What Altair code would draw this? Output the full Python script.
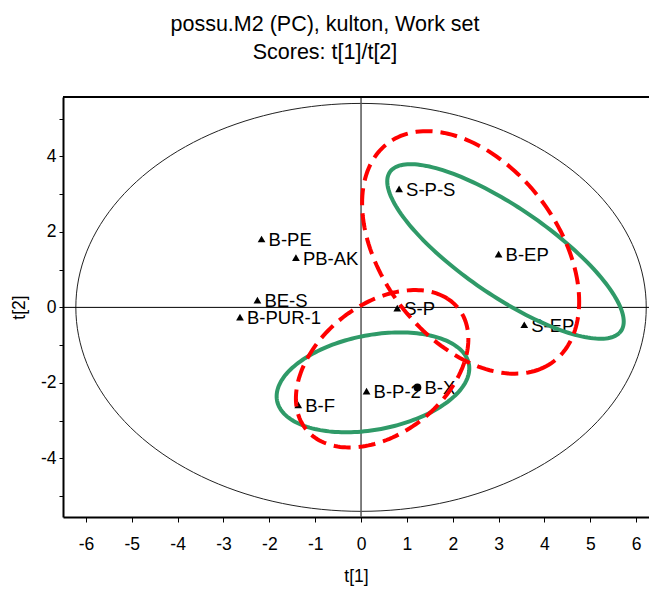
import altair as alt
import numpy as np
import pandas as pd

# ---- observations (scores) ----
names = ["S-P-S", "B-EP", "S-EP", "S-P", "B-P-2", "B-X", "B-F", "B-PE", "PB-AK", "BE-S", "B-PUR-1"]
t1 = [0.83, 3.00, 3.56, 0.79, 0.12, 1.23, -1.37, -2.17, -1.42, -2.26, -2.64]
t2 = [3.14, 1.41, -0.46, -0.02, -2.22, -2.12, -2.58, 1.81, 1.32, 0.19, -0.26]
markers = ["triangle-up", "triangle-up", "triangle-up", "triangle-up", "triangle-up", "circle",
           "triangle-up", "triangle-up", "triangle-up", "triangle-up", "triangle-up"]

# ---- ellipses: center x, center y, semi-axis a, semi-axis b, rotation (deg) ----
ell_ids = ["T2", "green1", "green2", "red1", "red2"]
ell_cx = [0.0, 3.15, 0.26, 2.39, 0.46]
ell_cy = [0.0, 1.48, -1.985, 1.455, -1.625]
ell_a = [6.22, 3.29, 2.15, 3.44, 2.34]
ell_b = [5.40, 1.08, 1.24, 2.02, 1.55]
ell_rot = [0.0, -41.1, 15.1, -63.7, 52.6]

x_ticks = [v / 2 for v in range(-12, 13)]
y_ticks = list(range(-5, 6))

pts = pd.DataFrame({"name": names, "t1": t1, "t2": t2, "marker": markers})

rows = []
ang = np.linspace(0, 2 * np.pi, 181)
for eid, cx, cy, a, b, r in zip(ell_ids, ell_cx, ell_cy, ell_a, ell_b, ell_rot):
    th = np.deg2rad(r)
    for i, t in enumerate(ang):
        ex = a * np.cos(t)
        ey = b * np.sin(t)
        rows.append({"id": eid, "i": i,
                     "x": cx + ex * np.cos(th) - ey * np.sin(th),
                     "y": cy + ex * np.sin(th) + ey * np.cos(th)})
ell = pd.DataFrame(rows)

FONT = "Liberation Sans"
W, H = 586, 420
xs = alt.Scale(domain=[-6.5, 6.28], nice=False, zero=False)
ys = alt.Scale(domain=[-5.55, 5.57], nice=False, zero=False)

xax = alt.Axis(values=x_ticks, title="t[1]", grid=False,
               labelExpr="datum.value % 1 === 0 ? '' + datum.value : ''",
               tickSize=5, labelPadding=13, titlePadding=15, domainWidth=2,
               domainColor="black", tickColor="black", labelFlush=False, labelOverlap=False)
yax = alt.Axis(values=y_ticks, title="t[2]", grid=False,
               labelExpr="datum.value % 2 === 0 ? '' + datum.value : ''",
               tickSize=4, labelPadding=3, titlePadding=12, domainWidth=2,
               domainColor="black", tickColor="black", labelFlush=False, labelOverlap=False)

base_ell = alt.Chart(ell)

t2_ell = base_ell.transform_filter("datum.id == 'T2'").mark_line(
    color="#222222", strokeWidth=1, clip=True).encode(
    x=alt.X("x:Q", scale=xs, axis=xax),
    y=alt.Y("y:Q", scale=ys, axis=yax),
    detail="id:N", order="i:Q")

zero_df = pd.DataFrame({"v": [0.0]})
hline = alt.Chart(zero_df).mark_rule(color="black", strokeWidth=1).encode(y=alt.Y("v:Q", scale=ys))
vline = alt.Chart(zero_df).mark_rule(color="#555555", strokeWidth=1.5).encode(x=alt.X("v:Q", scale=xs))

topline = alt.Chart(zero_df).mark_rule(color="black", strokeWidth=2).encode(
    x=alt.value(0), x2=alt.value(W), y=alt.value(0))

points = alt.Chart(pts).mark_point(filled=True, color="black", opacity=1, size=60).encode(
    x=alt.X("t1:Q", scale=xs), y=alt.Y("t2:Q", scale=ys),
    shape=alt.Shape("marker:N", scale=None))

labels = alt.Chart(pts).mark_text(align="left", baseline="middle", dx=7, dy=1,
                                  fontSize=18.5, font=FONT, color="black").encode(
    x=alt.X("t1:Q", scale=xs), y=alt.Y("t2:Q", scale=ys), text="name:N")

green = base_ell.transform_filter("indexof(datum.id, 'green') == 0").mark_line(
    color="#2f9a68", strokeWidth=4, clip=True).encode(
    x=alt.X("x:Q", scale=xs), y=alt.Y("y:Q", scale=ys), detail="id:N", order="i:Q")

red = base_ell.transform_filter("indexof(datum.id, 'red') == 0").mark_line(
    color="#ff0000", strokeWidth=4, strokeDash=[17, 8], clip=True).encode(
    x=alt.X("x:Q", scale=xs), y=alt.Y("y:Q", scale=ys), detail="id:N", order="i:Q")

chart = alt.layer(t2_ell, hline, vline, topline, points, labels, green, red).properties(
    width=W, height=H,
    title=alt.TitleParams(text=["possu.M2 (PC), kulton, Work set", "Scores: t[1]/t[2]"],
                          fontSize=21.5, font=FONT, fontWeight="normal", anchor="middle",
                          frame="group", dx=-31, offset=33, lineHeight=28, color="black"),
    autosize=alt.AutoSizeParams(type="none"),
    padding={"left": 63, "top": 97, "right": 0, "bottom": 72},
).configure_view(stroke=None).configure_axis(
    labelFont=FONT, titleFont=FONT, labelFontSize=17.5, titleFontSize=17.5,
    titleFontWeight="normal", labelColor="black", titleColor="black")

chart.save("out.html", embed_options={"renderer": "svg", "actions": False})
